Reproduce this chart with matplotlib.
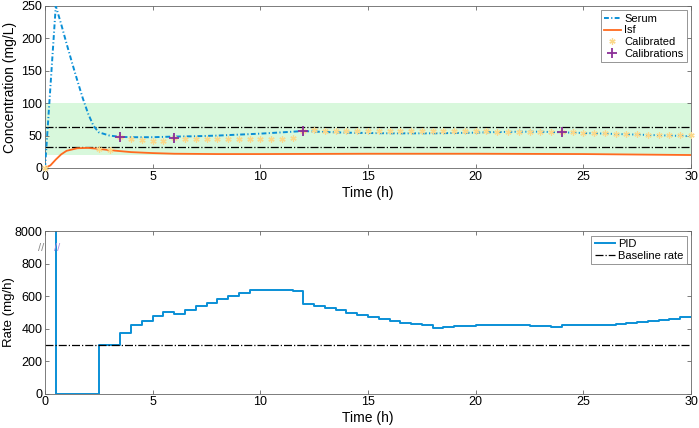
import numpy as np
import matplotlib
matplotlib.use('Agg')
import matplotlib.pyplot as plt

plt.rcParams['font.family'] = ['Liberation Sans', 'DejaVu Sans']

# --- top panel data ---
serum_t = [0, 0.5, 0.75, 1.0, 1.25, 1.5, 1.75, 2.0, 2.25, 2.5, 3.0, 3.5, 4, 5, 6, 7, 8, 9, 10, 11, 12,
           13, 14, 15, 16, 17, 18, 19, 20, 21, 22, 23, 24, 25, 26, 27, 28, 29, 30]
serum_v = [0, 250, 222, 192, 163, 135, 108, 84, 65, 55, 50, 48, 47.5, 47.5, 48.5, 49, 50, 51.5, 53, 55, 57,
           55.5, 54.5, 54, 53.5, 53.5, 53.5, 54, 54.5, 55.5, 56, 56, 55, 54, 53, 52, 51, 50, 49]

isf_t = [0, 0.25, 0.5, 0.75, 1.0, 1.5, 2.0, 2.5, 3.0, 4, 5, 6, 8, 10, 15, 20, 25, 30]
isf_v = [0, 4, 13, 21, 26.5, 30.5, 31, 29.5, 27.5, 24.5, 23, 22, 21.5, 21.5, 22, 22, 21.5, 20]

calib_t = [0, 2.5, 3.0] + list(np.arange(3.5, 30.01, 0.5))
calib_v = [0, 29, 28,
           48, 45.5, 43.5, 42, 41, 47, 45, 45, 44.5, 44.5, 44.5, 44.5, 44.5, 45, 45, 45.5, 46,
           57, 58,
           57.5, 57.5, 57.5, 57.5, 57.5, 57.5, 57.5, 57.5, 57, 57, 57, 57, 57, 57, 57,
           56.5, 56, 56, 55.5, 55.5, 55.5, 55, 55, 55, 54.5, 54, 53.5, 53, 52.5, 52, 51.5,
           51, 51, 50.5, 50.5]

cal_t = [3.5, 6, 12, 24]
cal_v = [48, 47, 57, 55]

target_lo, target_hi = 20, 100
limit_lo, limit_hi = 32, 64

# --- bottom panel data ---
rate_t = list(np.arange(0, 30.01, 0.5))
rate_v = [8000, 0, 0, 0, 0, 300, 300, 375, 420, 450, 478, 505, 490, 517, 540, 558, 582, 603, 620, 636,
          640, 640, 638, 632, 555, 542, 527, 513, 500, 486, 472, 459, 447, 438, 428, 420, 407, 410,
          415, 419, 422, 424, 425, 425, 422, 419, 416, 412, 420, 421, 422, 423, 425, 429, 434, 441,
          448, 455, 460, 470, 470]
baseline = 300

blue = '#0a8fd6'
orange = '#ff6a1f'
yellow = '#fbd88a'
purple = '#8b2f97'
spine_c = '#666666'

fig = plt.figure(figsize=(6.99, 4.28), dpi=100)
ax1 = fig.add_axes([0.0644, 0.6075, 0.9242, 0.3785])
ax2 = fig.add_axes([0.0644, 0.0801, 0.9242, 0.3795])

def style(ax):
    ax.tick_params(direction='in', length=3, width=0.6, color=spine_c, labelsize=9,
                   top=True, right=True, pad=2)
    for s in ax.spines.values():
        s.set_color(spine_c)
        s.set_linewidth(0.6)
    ax.set_xlim(0, 30)
    ax.set_xticks([0, 5, 10, 15, 20, 25, 30])
    ax.set_xlabel('Time (h)', fontsize=10, labelpad=2)

# top
ax1.axhspan(target_lo, target_hi, color='#d8f8dc', lw=0, zorder=0)
ax1.plot(serum_t, serum_v, color=blue, lw=1.4, dashes=(2.5, 1.2, 0.6, 1.2), label='Serum', zorder=3)
ax1.plot(isf_t, isf_v, '-', color=orange, lw=1.3, label='Isf', zorder=3)
ax1.plot(calib_t, calib_v, marker=(6, 2, 0), color=yellow, ms=4.5, mew=0.9, ls='none',
         label='Calibrated', zorder=4, clip_on=False)
ax1.plot(cal_t, cal_v, '+', color=purple, ms=7, mew=1.3, ls='none', label='Calibrations', zorder=5)
ax1.axhline(limit_hi, color='black', ls='-.', lw=0.9, zorder=2)
ax1.axhline(limit_lo, color='black', ls='-.', lw=0.9, zorder=2)
style(ax1)
ax1.set_ylim(0, 250)
ax1.set_yticks([0, 50, 100, 150, 200, 250])
ax1.set_ylabel('Concentration (mg/L)', fontsize=10)
ax1.yaxis.set_label_coords(-0.043, 0.5)
leg1 = ax1.legend(loc='upper right', fontsize=8, frameon=True, fancybox=False,
                  edgecolor=spine_c, handlelength=1.5, handletextpad=0.3,
                  borderpad=0.3, labelspacing=0.15, borderaxespad=0.4)
leg1.get_frame().set_linewidth(0.6)

# bottom (broken axis: top tick stands for 8000)
ax2.plot(rate_t, np.minimum(rate_v, 1100), color=blue, lw=1.4, drawstyle='steps-post', label='PID')
ax2.axhline(baseline, color='black', ls='-.', lw=0.9, label='Baseline rate')
style(ax2)
ax2.set_ylim(0, 1000)
ax2.set_yticks([0, 200, 400, 600, 800, 1000])
ax2.set_yticklabels(['0', '200', '400', '600', '800', '8000'])
ax2.set_ylabel('Rate (mg/h)', fontsize=9.5)
ax2.yaxis.set_label_coords(-0.046, 0.5)
ax2.text(-0.006, 900, '//', transform=ax2.get_yaxis_transform(), color='#888888',
         fontsize=8, ha='center', va='center', clip_on=False)
ax2.text(0.57, 900, '//', color='#b08ce0', fontsize=8, ha='center', va='center')
leg2 = ax2.legend(loc='upper right', fontsize=8, frameon=True, fancybox=False,
                  edgecolor=spine_c, handlelength=1.8, handletextpad=0.3,
                  borderpad=0.3, labelspacing=0.15, borderaxespad=0.4)
leg2.get_frame().set_linewidth(0.6)

fig.savefig('out.png', dpi=100)
